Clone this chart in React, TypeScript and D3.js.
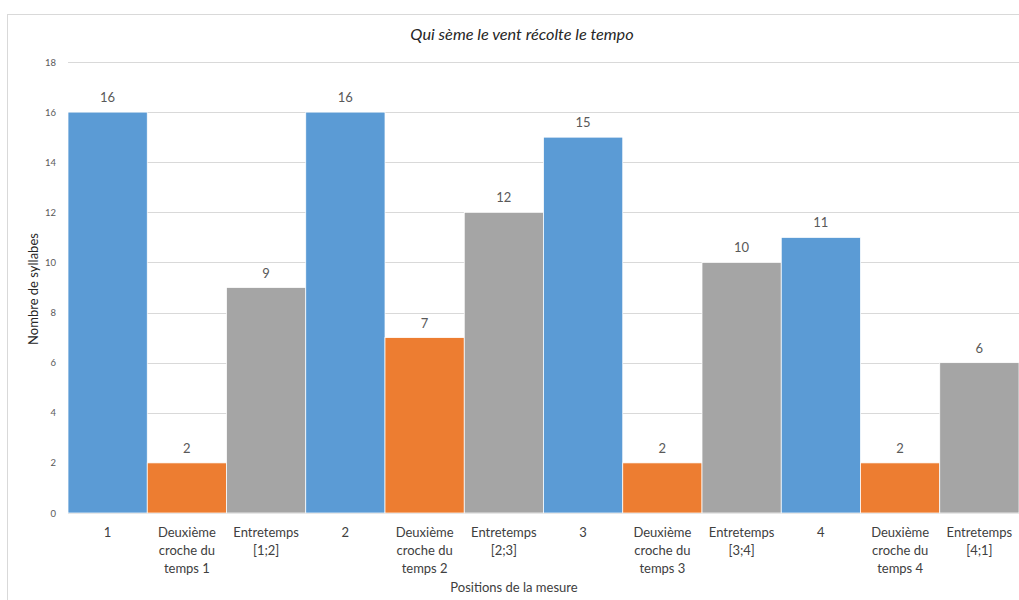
import React from "react";
import * as d3 from "d3";

const categories: string[][] = [
  ["1"],
  ["Deuxième", "croche du", "temps 1"],
  ["Entretemps", "[1;2]"],
  ["2"],
  ["Deuxième", "croche du", "temps 2"],
  ["Entretemps", "[2;3]"],
  ["3"],
  ["Deuxième", "croche du", "temps 3"],
  ["Entretemps", "[3;4]"],
  ["4"],
  ["Deuxième", "croche du", "temps 4"],
  ["Entretemps", "[4;1]"],
];
const values = [16, 2, 9, 16, 7, 12, 15, 2, 10, 11, 2, 6];
const kinds = [0, 1, 2, 0, 1, 2, 0, 1, 2, 0, 1, 2];
const colors = ["#5B9BD5", "#ED7D31", "#A5A5A5"];
const yTicks = [0, 2, 4, 6, 8, 10, 12, 14, 16, 18];
const title = "Qui sème le vent récolte le tempo";
const xTitle = "Positions de la mesure";
const yTitle = "Nombre de syllabes";

const W = 1019;
const H = 600;
const FONT = "Lato, 'Open Sans', sans-serif";

export default function App() {
  const x = d3
    .scaleBand<number>()
    .domain(d3.range(values.length))
    .range([68, 1019])
    .paddingInner(0)
    .paddingOuter(0);
  const y = d3.scaleLinear().domain([0, 18]).range([513, 62]);

  return (
    <svg
      width={W}
      height={H}
      style={{ position: "absolute", left: 0, top: 0, display: "block" }}
    >
      <rect x={0} y={0} width={W} height={H} fill="#fff" />
      <rect x={7.5} y={14.5} width={W + 10} height={H + 10} fill="#fff" stroke="#d9d9d9" strokeWidth={1} />
      <text x={522} y={40} textAnchor="middle" fontFamily={FONT} fontStyle="italic" fontSize={16.3} fill="#262626">
        {title}
      </text>
      {yTicks.map((t) => (
        <g key={t}>
          <line x1={68} x2={1019} y1={Math.round(y(t)) + 0.5} y2={Math.round(y(t)) + 0.5} stroke="#d9d9d9" strokeWidth={1} />
          <text x={56} y={y(t) + 3.5} textAnchor="end" fontFamily={FONT} fontSize={9.5} fill="#595959">
            {t}
          </text>
        </g>
      ))}
      {values.map((v, i) => (
        <g key={i}>
          <rect
            x={x(i)!}
            y={y(v)}
            width={x.bandwidth()}
            height={y(0) - y(v)}
            fill={colors[kinds[i]]}
            stroke="#fff"
            strokeWidth={0.75}
          />
          <text
            x={x(i)! + x.bandwidth() / 2}
            y={y(v) - 10}
            textAnchor="middle"
            fontFamily={FONT}
            fontSize={13}
            fill="#595959"
          >
            {v}
          </text>
          {categories[i].map((line, j) => (
            <text
              key={j}
              x={x(i)! + x.bandwidth() / 2}
              y={536.5 + j * 18}
              textAnchor="middle"
              fontFamily={FONT}
              fontSize={13}
              fill="#404040"
            >
              {line}
            </text>
          ))}
        </g>
      ))}
      <text x={514} y={592} textAnchor="middle" fontFamily={FONT} fontSize={13} fill="#404040">
        {xTitle}
      </text>
      <text
        transform={`translate(38,${289}) rotate(-90)`}
        textAnchor="middle"
        fontFamily={FONT}
        fontSize={13}
        fill="#262626"
      >
        {yTitle}
      </text>
    </svg>
  );
}
